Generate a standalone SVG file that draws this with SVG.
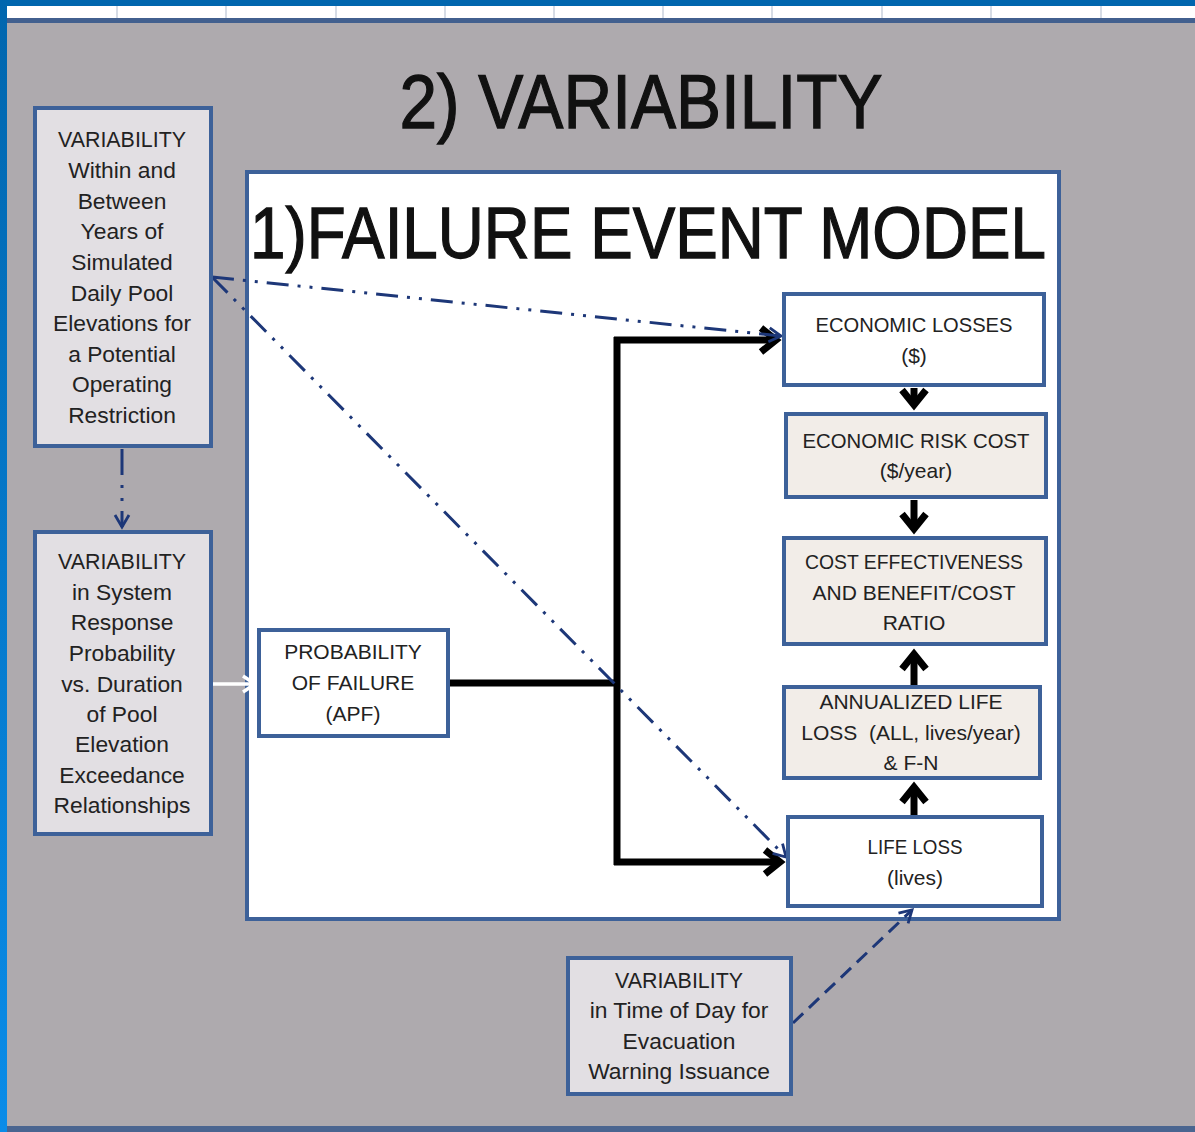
<svg xmlns="http://www.w3.org/2000/svg" width="1195" height="1132" viewBox="0 0 1195 1132">
<defs>
<linearGradient id="lbar" x1="0" y1="0" x2="0" y2="1">
<stop offset="0" stop-color="#0066ae"/>
<stop offset="1" stop-color="#0a8ce8"/>
</linearGradient>
<marker id="chev" markerUnits="userSpaceOnUse" markerWidth="40" markerHeight="40" viewBox="-30 -20 40 40" refX="0" refY="0" orient="auto" overflow="visible">
<path d="M-15,-12 L0,0 L-15,12" fill="none" stroke="#000" stroke-width="7" stroke-linejoin="miter"/>
</marker>
<marker id="wchev" markerUnits="userSpaceOnUse" markerWidth="30" markerHeight="30" viewBox="-20 -15 30 30" refX="0" refY="0" orient="auto" overflow="visible">
<path d="M-12,-8 L0,0 L-12,8" fill="none" stroke="#fff" stroke-width="3.5"/>
</marker>
<marker id="nav" markerUnits="userSpaceOnUse" markerWidth="30" markerHeight="30" viewBox="-20 -15 30 30" refX="0" refY="0" orient="auto" overflow="visible">
<path d="M-12,-7 L0,0 L-12,7" fill="none" stroke="#1d3778" stroke-width="2.8"/>
</marker>
</defs>
<style>
.box{stroke:#3d6199;stroke-width:4}
.grey{fill:#e2dfe3}
.wh{fill:#ffffff}
.bg{fill:#f2ede8}
.t{font-family:"Liberation Sans",Arial,sans-serif;font-size:21px;fill:#222;text-anchor:middle}
.g{font-size:22.8px}
.nav{fill:none;stroke:#1d3778;stroke-width:3}
.blk{fill:none;stroke:#000;stroke-width:7}
.big{font-family:"Liberation Sans",Arial,sans-serif;fill:#111;stroke:#111;stroke-width:1.3;text-anchor:middle}
</style>
<rect x="0" y="0" width="1195" height="1132" fill="#aeaaae"/>
<rect x="0" y="6" width="1195" height="12" fill="#ffffff"/>
<g stroke="#c9d1dc" stroke-width="1.5">
<line x1="117" y1="6" x2="117" y2="18"/><line x1="226" y1="6" x2="226" y2="18"/><line x1="336" y1="6" x2="336" y2="18"/><line x1="445" y1="6" x2="445" y2="18"/><line x1="554" y1="6" x2="554" y2="18"/><line x1="663" y1="6" x2="663" y2="18"/><line x1="772" y1="6" x2="772" y2="18"/><line x1="882" y1="6" x2="882" y2="18"/><line x1="991" y1="6" x2="991" y2="18"/><line x1="1101" y1="6" x2="1101" y2="18"/>
</g>
<rect x="0" y="18" width="1195" height="5" fill="#42608f"/>
<rect x="0" y="1126" width="1195" height="6" fill="#4a6590"/>
<rect x="0" y="0" width="1195" height="6" fill="#0066ae"/>
<rect x="0" y="0" width="7" height="1132" fill="url(#lbar)"/>

<text x="641" y="128" class="big" font-size="76" textLength="483" lengthAdjust="spacingAndGlyphs">2) VARIABILITY</text>

<g id="failure-event-model">
<rect x="247" y="172" width="812" height="747" class="box wh"/>
<text x="648" y="258" class="big" font-size="73" textLength="796" lengthAdjust="spacingAndGlyphs">1)FAILURE EVENT MODEL</text>
</g>

<g id="connectors">
<polyline points="449,683 617,683" class="blk"/>
<line x1="617" y1="337" x2="617" y2="865" class="blk"/>
<line x1="614" y1="340" x2="776" y2="340" class="blk" marker-end="url(#chev)"/>
<line x1="614" y1="862" x2="780" y2="862" class="blk" marker-end="url(#chev)"/>
<line x1="914" y1="388" x2="914" y2="405" class="blk" marker-end="url(#chev)"/>
<line x1="914" y1="500" x2="914" y2="529" class="blk" marker-end="url(#chev)"/>
<line x1="914" y1="685" x2="914" y2="654" class="blk" marker-end="url(#chev)"/>
<line x1="914" y1="815" x2="914" y2="787" class="blk" marker-end="url(#chev)"/>
<line x1="212" y1="277" x2="781" y2="336" class="nav" stroke-dasharray="22 9 3 9 3 9" marker-end="url(#nav)"/>
<line x1="212" y1="277" x2="786" y2="857" class="nav" stroke-dasharray="22 9 3 9 3 9" marker-end="url(#nav)"/>
<line x1="122" y1="449" x2="122" y2="527" class="nav" stroke-dasharray="26 10 3 10 3 10" marker-end="url(#nav)"/>
<line x1="793" y1="1023" x2="912" y2="910" class="nav" stroke-dasharray="14 8" marker-end="url(#nav)"/>
<line x1="213" y1="684" x2="255" y2="684" stroke="#fff" stroke-width="3.5" marker-end="url(#wchev)"/>
</g>

<g id="var-pool">
<rect x="35" y="108" width="176" height="338" class="box grey"/>
<text class="t g"><tspan x="122" y="147" textLength="128" lengthAdjust="spacingAndGlyphs">VARIABILITY</tspan><tspan x="122" y="178">Within and</tspan><tspan x="122" y="209">Between</tspan><tspan x="122" y="239">Years of</tspan><tspan x="122" y="270">Simulated</tspan><tspan x="122" y="301">Daily Pool</tspan><tspan x="122" y="331">Elevations for</tspan><tspan x="122" y="362">a Potential</tspan><tspan x="122" y="392">Operating</tspan><tspan x="122" y="423">Restriction</tspan></text>
</g>

<g id="var-system">
<rect x="35" y="532" width="176" height="302" class="box grey"/>
<text class="t g"><tspan x="122" y="569" textLength="128" lengthAdjust="spacingAndGlyphs">VARIABILITY</tspan><tspan x="122" y="600">in System</tspan><tspan x="122" y="630">Response</tspan><tspan x="122" y="661">Probability</tspan><tspan x="122" y="692">vs. Duration</tspan><tspan x="122" y="722">of Pool</tspan><tspan x="122" y="752">Elevation</tspan><tspan x="122" y="783">Exceedance</tspan><tspan x="122" y="813">Relationships</tspan></text>
</g>

<g id="pof">
<rect x="259" y="630" width="189" height="106" class="box wh"/>
<text class="t"><tspan x="353" y="659">PROBABILITY</tspan><tspan x="353" y="690">OF FAILURE</tspan><tspan x="353" y="721">(APF)</tspan></text>
</g>

<g id="econ-losses">
<rect x="784" y="294" width="260" height="91" class="box wh"/>
<text class="t"><tspan x="914" y="332" textLength="197" lengthAdjust="spacingAndGlyphs">ECONOMIC LOSSES</tspan><tspan x="914" y="363">($)</tspan></text>
</g>

<g id="econ-risk">
<rect x="786" y="414" width="260" height="83" class="box bg"/>
<text class="t"><tspan x="916" y="448" textLength="227" lengthAdjust="spacingAndGlyphs">ECONOMIC RISK COST</tspan><tspan x="916" y="478">($/year)</tspan></text>
</g>

<g id="cost-eff">
<rect x="784" y="538" width="262" height="106" class="box bg"/>
<text class="t"><tspan x="914" y="569" textLength="218" lengthAdjust="spacingAndGlyphs">COST EFFECTIVENESS</tspan><tspan x="914" y="600">AND BENEFIT/COST</tspan><tspan x="914" y="630">RATIO</tspan></text>
</g>

<g id="annual-life">
<rect x="784" y="687" width="256" height="91" class="box bg"/>
<text class="t"><tspan x="911" y="709">ANNUALIZED LIFE</tspan><tspan x="911" y="740" xml:space="preserve">LOSS  (ALL, lives/year)</tspan><tspan x="911" y="770">&amp; F-N</tspan></text>
</g>

<g id="life-loss">
<rect x="788" y="817" width="254" height="89" class="box wh"/>
<text class="t"><tspan x="915" y="854" textLength="95" lengthAdjust="spacingAndGlyphs">LIFE LOSS</tspan><tspan x="915" y="885">(lives)</tspan></text>
</g>

<g id="var-time">
<rect x="568" y="958" width="223" height="136" class="box grey"/>
<text class="t g"><tspan x="679" y="988" textLength="128" lengthAdjust="spacingAndGlyphs">VARIABILITY</tspan><tspan x="679" y="1018">in Time of Day for</tspan><tspan x="679" y="1049">Evacuation</tspan><tspan x="679" y="1079">Warning Issuance</tspan></text>
</g>
</svg>
